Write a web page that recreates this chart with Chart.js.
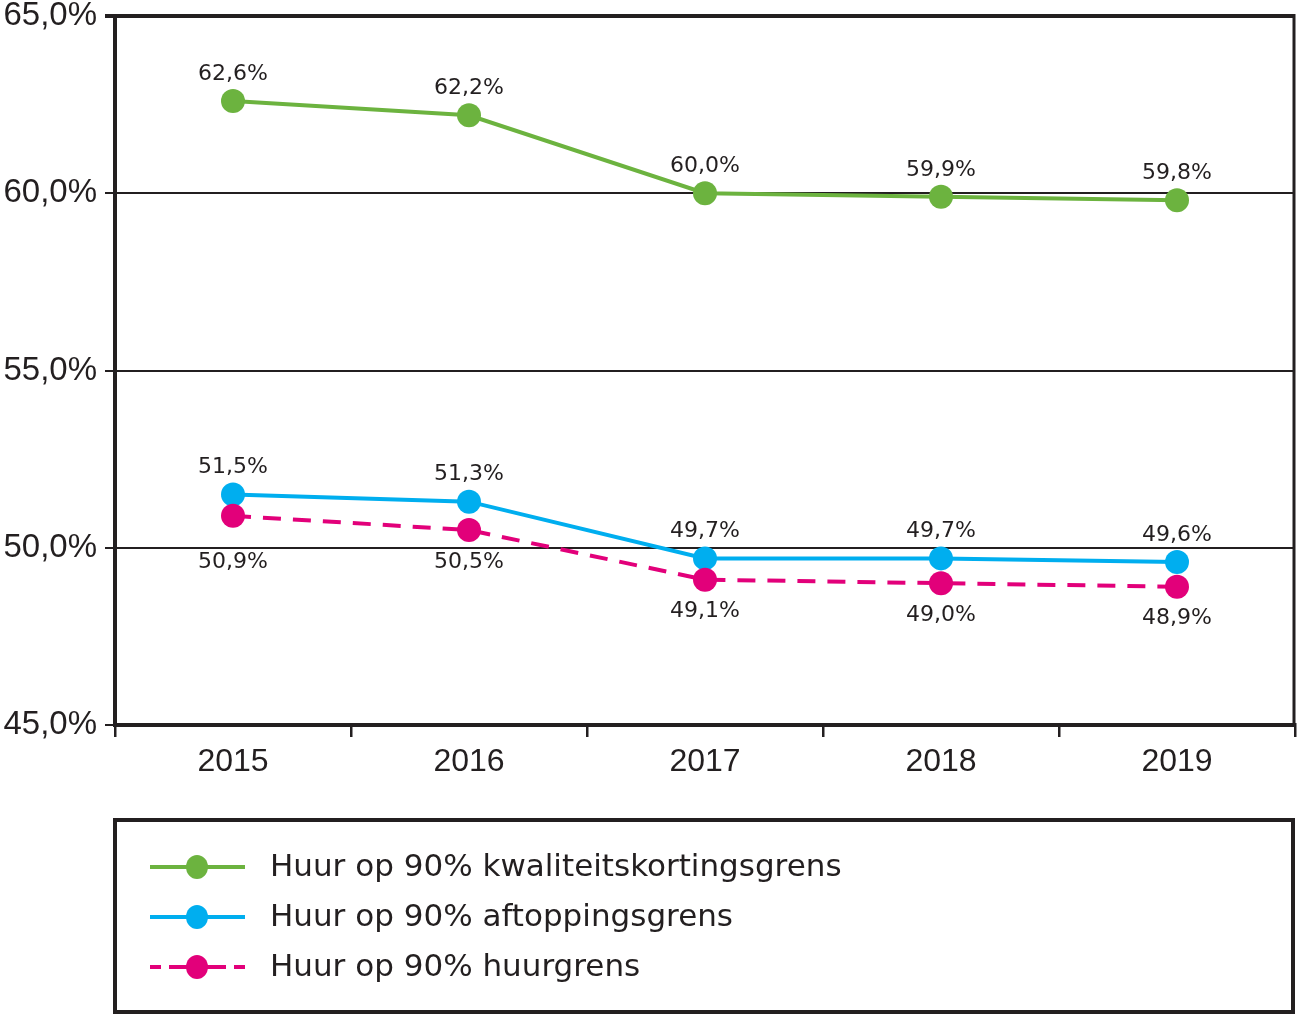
<!DOCTYPE html>
<html>
<head>
<meta charset="utf-8">
<script src="https://cdn.jsdelivr.net/npm/chart.js@4"></script>
<style>
html,body{margin:0;padding:0;background:#fff;}
#wrap{width:1297px;height:1016px;}
</style>
</head>
<body>
<div id="wrap"><canvas id="c" width="1297" height="1016"></canvas></div>
<script>
const categories = ['2015', '2016', '2017', '2018', '2019'];
const kwaliteitskorting = [62.6, 62.2, 60.0, 59.9, 59.8];
const aftopping = [51.5, 51.3, 49.7, 49.7, 49.6];
const huurgrens = [50.9, 50.5, 49.1, 49.0, 48.9];
const seriesNames = [
  'Huur op 90% kwaliteitskortingsgrens',
  'Huur op 90% aftoppingsgrens',
  'Huur op 90% huurgrens'
];
const yMin = 45, yMax = 65, yStep = 5;

const DARK = '#231f20';
const fmt = v => v.toFixed(1).replace('.', ',') + '%';

const labelPlugin = {
  id: 'pointLabels',
  afterDatasetsDraw(chart) {
    const ctx = chart.ctx;
    const yScale = chart.scales.y;
    const gridYs = yScale.ticks.map(t => yScale.getPixelForValue(t.value));
    ctx.save();
    ctx.font = '22px "DejaVu Sans"';
    ctx.fillStyle = DARK;
    ctx.textAlign = 'center';
    ctx.textBaseline = 'middle';
    chart.data.datasets.forEach((ds, i) => {
      const meta = chart.getDatasetMeta(i);
      meta.data.forEach((pt, j) => {
        let y;
        if (ds.labelPos === 'below') {
          y = pt.y + 32;
          gridYs.forEach(g => {
            if (y - 10 < g + 2 && y + 10 > g - 2) y = g + 15;
          });
        } else {
          y = pt.y - 27;
        }
        ctx.fillText(fmt(ds.data[j]), pt.x, y);
      });
    });
    ctx.restore();
  }
};

const framePlugin = {
  id: 'frame',
  beforeDatasetsDraw(chart) {
    const a = chart.chartArea, ctx = chart.ctx;
    ctx.save();
    ctx.strokeStyle = DARK;
    ctx.lineWidth = 3;
    ctx.beginPath();
    ctx.moveTo(a.right - 1, a.top - 2);
    ctx.lineTo(a.right - 1, a.bottom + 2);
    ctx.stroke();
    ctx.restore();
  },
  afterDraw(chart) {
    const ctx = chart.ctx;
    ctx.save();
    ctx.strokeStyle = DARK;
    ctx.lineWidth = 4;
    ctx.strokeRect(115, 820, 1178, 192);
    ctx.font = '31px "DejaVu Sans"';
    ctx.textBaseline = 'middle';
    ctx.textAlign = 'left';
    chart.data.datasets.forEach((ds, i) => {
      const y = 867 + i * 50;
      ctx.strokeStyle = ds.borderColor;
      ctx.lineWidth = 4;
      ctx.beginPath();
      if (ds.borderDash) {
        ctx.moveTo(150, y); ctx.lineTo(161, y);
        ctx.moveTo(169, y); ctx.lineTo(187, y);
        ctx.moveTo(207, y); ctx.lineTo(226, y);
        ctx.moveTo(234, y); ctx.lineTo(245, y);
      } else {
        ctx.moveTo(150, y); ctx.lineTo(245, y);
      }
      ctx.stroke();
      ctx.fillStyle = ds.backgroundColor;
      ctx.beginPath();
      ctx.ellipse(197, y, 11, 12, 0, 0, Math.PI * 2);
      ctx.fill();
      ctx.fillStyle = DARK;
      ctx.fillText(seriesNames[i], 270, y + 1);
    });
    ctx.restore();
  }
};

new Chart(document.getElementById('c'), {
  type: 'line',
  data: {
    labels: categories,
    datasets: [
      {
        label: seriesNames[0], data: kwaliteitskorting,
        borderColor: '#6cb33f', backgroundColor: '#6cb33f',
        borderWidth: 4, pointRadius: 12, pointBorderWidth: 0, pointHoverRadius: 12,
        labelPos: 'above', order: 2
      },
      {
        label: seriesNames[1], data: aftopping,
        borderColor: '#00aeef', backgroundColor: '#00aeef',
        borderWidth: 4, pointRadius: 12, pointBorderWidth: 0, pointHoverRadius: 12,
        labelPos: 'above', order: 2
      },
      {
        label: seriesNames[2], data: huurgrens,
        borderColor: '#e2007a', backgroundColor: '#e2007a',
        borderWidth: 4, borderDash: [18, 12], pointRadius: 12, pointBorderWidth: 0, pointHoverRadius: 12,
        labelPos: 'below', order: 1
      }
    ]
  },
  options: {
    responsive: false,
    animation: false,
    layout: { autoPadding: false, padding: { top: 16, right: 2, left: 0, bottom: 0 } },
    plugins: { legend: { display: false }, tooltip: { enabled: false } },
    scales: {
      x: {
        offset: true,
        grid: {
          offset: true, drawOnChartArea: false, drawTicks: true,
          tickLength: 12, color: DARK, lineWidth: 2.5
        },
        border: { display: true, color: DARK, width: 4 },
        ticks: { color: DARK, font: { family: '"Liberation Sans"', size: 32 }, padding: 6, maxRotation: 0 },
        afterFit(scale) { scale.height = 291; scale.paddingLeft = 0; scale.paddingRight = 0; }
      },
      y: {
        min: yMin, max: yMax,
        grid: {
          color: DARK,
          lineWidth: c => (c.tick && c.tick.value === yMax ? 4 : 2),
          tickLength: 10
        },
        border: { display: true, color: DARK, width: 4 },
        ticks: {
          stepSize: yStep, color: DARK, padding: 8,
          font: { family: '"Liberation Sans"', size: 33 },
          callback: v => fmt(v)
        },
        afterFit(scale) { scale.width = 115; scale.paddingTop = 0; scale.paddingBottom = 0; }
      }
    }
  },
  plugins: [labelPlugin, framePlugin]
});
</script>
</body>
</html>
